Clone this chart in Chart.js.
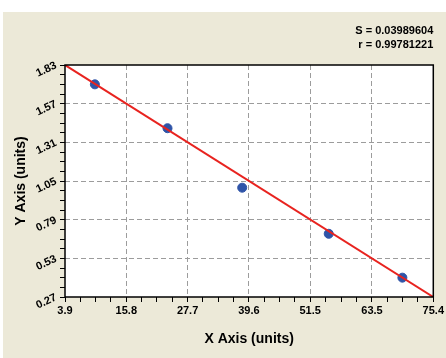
<!DOCTYPE html>
<html>
<head>
<meta charset="utf-8">
<script src="https://cdn.jsdelivr.net/npm/chart.js@4"></script>
<style>
  html, body { margin: 0; padding: 0; background: #ffffff; }
  #wrap { width: 446px; height: 358px; }
</style>
</head>
<body>
<div id="wrap"><canvas id="chart" width="446" height="358"></canvas></div>
<script>
// axis ticks
const xTicks = [3.9, 15.8, 27.7, 39.6, 51.5, 63.5, 75.4];
const yTicks = [0.27, 0.53, 0.79, 1.05, 1.31, 1.57, 1.83];

// standards
const stdX = [9.7, 23.8, 38.3, 55.1, 69.4];
const stdY = [1.70, 1.405, 1.005, 0.695, 0.40];

// fitted line ends
const fitX = [3.9, 75.4];
const fitY = [1.83, 0.27];

const statS = 'S = 0.03989604';
const statR = 'r = 0.99781221';

// major ticks plus 3 minor ticks between each pair
function withMinor(major) {
    let out = [];
    for (let i = 0; i < major.length; i++) {
        out.push({value: major[i], major: true});
        if (i < major.length - 1) {
            let step = (major[i + 1] - major[i]) / 4;
            for (let k = 1; k < 4; k++) out.push({value: major[i] + step * k, major: false});
        }
    }
    return out;
}

function gridColor(c, major) {
    if (!c.tick || !c.tick.major) return 'rgba(0,0,0,0)';
    let v = c.tick.value;
    if (v === major[0] || v === major[major.length - 1]) return 'rgba(0,0,0,0)';
    return '#9c9c9c';
}

const framePlugin = {
    id: 'frame',
    beforeDraw(chart) {
        const ctx = chart.ctx;
        ctx.save();
        ctx.fillStyle = '#ece9d8';
        ctx.fillRect(3, 12, chart.width - 3, chart.height - 12);
        const a = chart.chartArea;
        ctx.fillStyle = '#ffffff';
        ctx.fillRect(a.left, a.top, a.right - a.left, a.bottom - a.top);
        ctx.restore();
    },
    afterDraw(chart) {
        const ctx = chart.ctx;
        const a = chart.chartArea;
        ctx.save();
        ctx.strokeStyle = '#000000';
        ctx.lineWidth = 1.5;
        ctx.strokeRect(a.left, a.top, a.right - a.left, a.bottom - a.top);
        ctx.fillStyle = '#000000';
        ctx.font = 'bold 11px "Liberation Sans", Arial, sans-serif';
        ctx.textAlign = 'right';
        ctx.textBaseline = 'middle';
        ctx.fillText(statS, a.right, 31);
        ctx.fillText(statR, a.right, 45);
        ctx.restore();
    }
};

const tickFont = {family: '"Liberation Sans", Arial, sans-serif', size: 11, weight: 'bold'};
const titleFont = {family: '"Liberation Sans", Arial, sans-serif', size: 14, weight: 'bold'};

new Chart(document.getElementById('chart'), {
    type: 'scatter',
    data: {
        datasets: [{
            type: 'line',
            data: fitX.map((x, i) => ({x: x, y: fitY[i]})),
            borderColor: '#e8231f',
            borderWidth: 2,
            pointRadius: 0,
            fill: false
        }, {
            data: stdX.map((x, i) => ({x: x, y: stdY[i]})),
            backgroundColor: '#2f54a8',
            borderColor: '#2f54a8',
            pointRadius: 4.5,
            pointStyle: 'circle'
        }]
    },
    options: {
        responsive: false,
        animation: false,
        layout: {padding: {left: 3, right: 11, top: 65, bottom: 0}},
        plugins: {legend: {display: false}, tooltip: {enabled: false}},
        scales: {
            x: {
                type: 'linear',
                min: xTicks[0],
                max: xTicks[xTicks.length - 1],
                afterBuildTicks: s => { s.ticks = withMinor(xTicks); },
                afterFit: s => { s.height = 61; },
                ticks: {
                    autoSkip: false,
                    maxRotation: 0,
                    padding: 2,
                    color: '#000000',
                    font: tickFont,
                    callback: (v, i, t) => t[i].major ? String(v.toFixed(1)) : ''
                },
                grid: {
                    color: c => gridColor(c, xTicks),
                    tickColor: '#000000',
                    tickLength: 5,
                    tickBorderDash: []
                },
                border: {display: false, dash: [5, 3]},
                title: {display: true, text: 'X Axis (units)', color: '#000000', font: titleFont, padding: {top: 0, bottom: 10}}
            },
            y: {
                type: 'linear',
                min: yTicks[0],
                max: yTicks[yTicks.length - 1],
                afterBuildTicks: s => { s.ticks = withMinor(yTicks); },
                afterFit: s => { s.width = 62; },
                ticks: {
                    autoSkip: false,
                    minRotation: 25,
                    maxRotation: 25,
                    padding: 4,
                    color: '#000000',
                    font: tickFont,
                    callback: (v, i, t) => t[i].major ? String(v.toFixed(2)) : ''
                },
                grid: {
                    color: c => gridColor(c, yTicks),
                    tickColor: '#000000',
                    tickLength: 5,
                    tickBorderDash: []
                },
                border: {display: false, dash: [5, 3]},
                title: {display: true, text: 'Y Axis (units)', color: '#000000', font: titleFont, padding: {top: 10, bottom: 0}}
            }
        }
    },
    plugins: [framePlugin]
});
</script>
</body>
</html>
